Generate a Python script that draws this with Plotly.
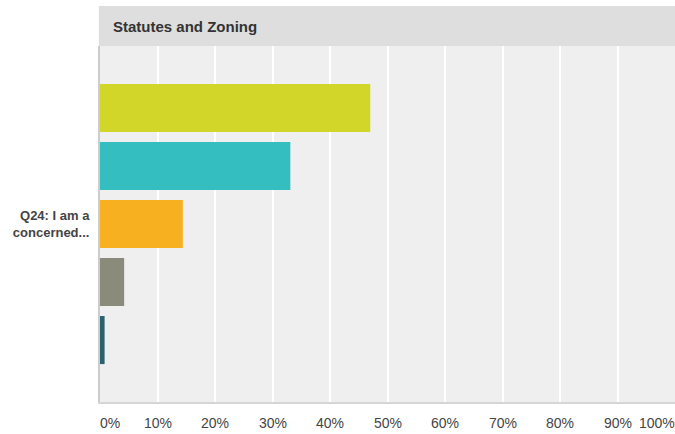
import plotly.graph_objects as go

# Survey question and response shares (percent), listed top to bottom
question = "Q24: I am a<br>concerned..."
values = [47.0, 33.1, 14.4, 4.2, 0.8]
colors = ["#d1d628", "#34bec0", "#f7b01f", "#8b8b7b", "#2a6270"]
tick_vals = [0, 10, 20, 30, 40, 50, 60, 70, 80, 90, 100]
tick_text = ["0%", "10%", "20%", "30%", "40%", "50%", "60%", "70%", "80%", "90%", "100%"]
title_text = "Statutes and Zoning"

fig = go.Figure()

# Horizontal grouped bars stack from the bottom up, so add them in reverse
for v, c in reversed(list(zip(values, colors))):
    fig.add_trace(go.Bar(
        x=[v], y=[question], orientation="h",
        marker=dict(color=c, line=dict(width=0)),
        hoverinfo="x", showlegend=False,
    ))

fig.update_layout(
    width=675, height=434,
    margin=dict(l=100, r=0, t=46, b=32),
    paper_bgcolor="white",
    plot_bgcolor="#efefef",
    barmode="group",
    bargap=0.185,
    bargroupgap=0.172,
    font=dict(family="Liberation Sans, Arial, sans-serif", color="#444"),
    xaxis=dict(
        range=[0, 100],
        tickvals=tick_vals,
        showticklabels=False,
        showgrid=True, gridcolor="white", gridwidth=2,
        zeroline=False,
        showline=True, linecolor="#d6d6d6", linewidth=2,
        fixedrange=True,
    ),
    yaxis=dict(
        showgrid=False, zeroline=False,
        showline=True, linecolor="#cccccc", linewidth=2,
        ticks="outside", ticklen=6, tickcolor="rgba(0,0,0,0)",
        tickfont=dict(size=13, color="#444", family="Liberation Sans, Arial, sans-serif"),
        fixedrange=True,
    ),
)

# Header band above the plotting area
fig.add_shape(type="rect", xref="paper", yref="paper",
              x0=-0.002, x1=1, y0=1, y1=1 + 40 / 356,
              fillcolor="#dedede", line=dict(width=0), layer="below")
fig.add_annotation(text="<b>" + title_text + "</b>", xref="paper", yref="paper",
                   x=0.019, y=1 + 20 / 356, xanchor="left", yanchor="middle",
                   showarrow=False, font=dict(size=15, color="#333"))

# Percent tick labels; the end labels are nudged inward to stay in view
for tv, tt in zip(tick_vals, tick_text):
    shift = 0
    if tv == 0:
        shift = 10
    elif tv == 100:
        shift = -18
    fig.add_annotation(text=tt, x=tv, xref="x", y=-21 / 356, yref="paper",
                       xanchor="center", yanchor="middle", xshift=shift,
                       showarrow=False, font=dict(size=14, color="#444"))

# Bold category label
fig.update_yaxes(tickvals=[question], ticktext=["<b>" + question + "</b>"])

fig.write_html("out.html")
